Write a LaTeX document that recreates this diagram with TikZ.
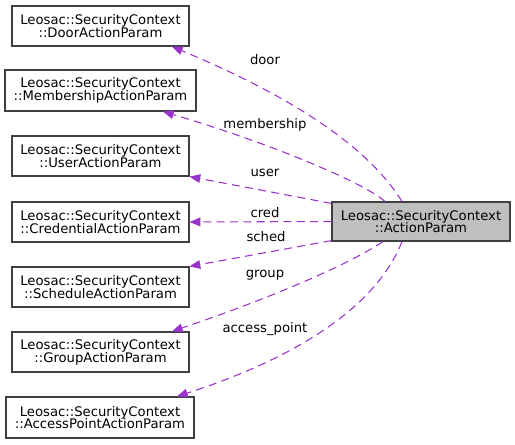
\documentclass[tikz,border=0pt]{standalone}
\usepackage{fontspec}
\setmainfont{DejaVu Sans}
\usetikzlibrary{arrows.meta,calc}
\definecolor{edgecol}{RGB}{154,50,205}
\definecolor{boxcol}{RGB}{64,64,64}
\definecolor{focuscol}{RGB}{191,191,191}
\def\px{0.75pt}

\begin{document}
\begin{tikzpicture}[
    x=0.75pt, y=-0.75pt,
    >={Triangle[length=8pt, width=6.5pt]},
    cls/.style={draw=boxcol, line width=0.9pt, fill=white, align=center, inner sep=0pt,
        font=\fontsize{9.9pt}{9.6pt}\selectfont},
    uses/.style={->, edgecol, line width=0.8pt, dash pattern=on 6pt off 4pt},
    role/.style={font=\fontsize{9.9pt}{11pt}\selectfont, text=black},
]
\useasboundingbox (0,0) rectangle (515,444);

\node[cls, fill=focuscol, minimum width=178*\px, minimum height=39*\px] (ap) at (421,221.5) {Leosac::SecurityContext\\::ActionParam};

\node[cls, minimum width=177*\px, minimum height=40*\px] (door) at (100.5,26) {Leosac::SecurityContext\\::DoorActionParam};
\node[cls, minimum width=191*\px, minimum height=41*\px] (memb) at (100.5,90.5) {Leosac::SecurityContext\\::MembershipActionParam};
\node[cls, minimum width=177*\px, minimum height=40*\px] (user) at (100.5,156) {Leosac::SecurityContext\\::UserActionParam};
\node[cls, minimum width=177*\px, minimum height=40*\px] (cred) at (100.5,222) {Leosac::SecurityContext\\::CredentialActionParam};
\node[cls, minimum width=177*\px, minimum height=40*\px] (sched) at (100.5,287) {Leosac::SecurityContext\\::ScheduleActionParam};
\node[cls, minimum width=177*\px, minimum height=40*\px] (group) at (100.5,352) {Leosac::SecurityContext\\::GroupActionParam};
\node[cls, minimum width=188*\px, minimum height=41*\px] (acc) at (100,417.5) {Leosac::SecurityContext\\::AccessPointActionParam};

\draw[uses] ($(ap.north)+(-19,0)$) .. controls (370,150) and (300,100) .. ($(door.south)+(71.5,0)$);
\draw[uses] ($(ap.north)+(-36,0)$) .. controls (360,180) and (260,140) .. ($(memb.south)+(62.5,0)$);
\draw[uses] ($(ap.north west)+(0,2)$) -- (user.south east);
\draw[uses] (ap.west) -- (cred.east);
\draw[uses] ($(ap.south west)+(0,-1)$) -- (sched.north east);
\draw[uses] ($(ap.south)+(-38,0)$) .. controls (340,270) and (250,305) .. ($(group.north)+(71.5,0)$);
\draw[uses] ($(ap.south)+(-19,0)$) .. controls (375,310) and (290,360) .. ($(acc.north)+(77,0)$);

\node[role] (ldoor) at (265,60) {door};
\node[role] (lmemb) at (265,125) {membership};
\node[role] (luser) at (265,173) {user};
\node[role] (lcred) at (265,213) {cred};
\node[role] (lsched) at (266,237) {sched};
\node[role] (lgroup) at (265,275) {group};
\node[role] (lacc) at (265,329) {access\_point};
\end{tikzpicture}
\end{document}
